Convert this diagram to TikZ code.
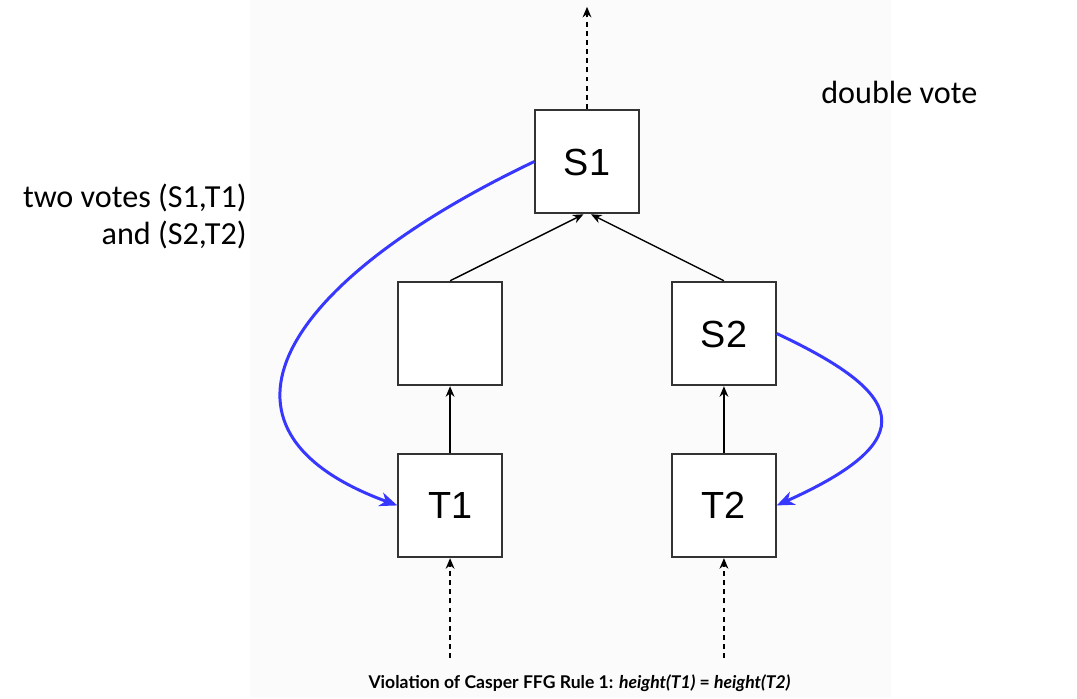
\documentclass[tikz,border=0pt]{standalone}
\usepackage{fontspec}
\setmainfont{Liberation Sans}
\newfontfamily\notefont{Carlito}
\newfontfamily\capfont{Lato}
\usepackage{tikz}
\usetikzlibrary{matrix,arrows.meta,positioning}

\definecolor{panel}{RGB}{251,251,251}
\definecolor{boxgray}{RGB}{51,51,51}
\definecolor{votes}{RGB}{55,55,255}

\tikzset{
  box/.style={draw=boxgray,line width=1.1pt,fill=white,minimum size=2.07cm,inner sep=0pt,
    text height=15.4pt,text depth=0pt,font=\fontsize{21.5}{25}\selectfont},
  link/.style={-{Stealth[length=6pt,width=5pt]},line width=0.8pt},
  chain/.style={link,dash pattern=on 2.8pt off 2.4pt},
  vote/.style={-{Stealth[length=10pt,width=8pt,inset=3pt]},votes,line width=1.7pt},
  note/.style={inner sep=0pt,font=\notefont\fontsize{18.3}{21}\selectfont}
}

\begin{document}
\begin{tikzpicture}
\useasboundingbox (0,0) rectangle (21.54,-13.96);
\fill[white] (0,0) rectangle (21.54,-13.96);
\fill[panel] (5,0) rectangle (17.82,-13.94);

\matrix (m) [matrix of nodes, row sep=1.33cm, column sep=0.63cm, nodes={box}] at (11.74,-6.67)
{ & S1 & \\
\mbox{} & & S2 \\
T1 & & T2 \\ };

\coordinate[above=2.04cm of m-1-2.north] (up);
\coordinate[below=2cm of m-3-1.south] (in1);
\coordinate[below=2cm of m-3-3.south] (in2);

\draw[chain] (m-1-2.north) -- (up);
\draw[chain] (in1) -- (m-3-1.south);
\draw[chain] (in2) -- (m-3-3.south);

\draw[link] (m-2-1.north) -- ([xshift=-0.07cm]m-1-2.south);
\draw[link] (m-2-3.north) -- ([xshift=0.08cm]m-1-2.south);
\draw[link] (m-3-1) -- (m-2-1);
\draw[link] (m-3-3) -- (m-2-3);

% the two votes
\draw[vote] (m-1-2.west) .. controls +(-5.0,-2.38) and +(-4.2,1.54) .. (m-3-1.west);
\draw[vote] (m-2-3.east) .. controls +(2.56,-1.2) and +(2.96,1.33) .. (m-3-3.east);

\node[note,anchor=base west] (dv) at (16.42,-2.06) {double vote};
\node[note,align=right,anchor=base east] (tv) at (4.94,-4.88) {two votes (S1,T1)\\and (S2,T2)};
\node[inner sep=0pt,anchor=base,font=\capfont\bfseries\fontsize{10}{12}\selectfont] (rule) at (11.59,-13.76)
  {Violation of Casper FFG Rule 1: \textit{height(T1)} = \textit{height(T2)}};
\end{tikzpicture}
\end{document}
